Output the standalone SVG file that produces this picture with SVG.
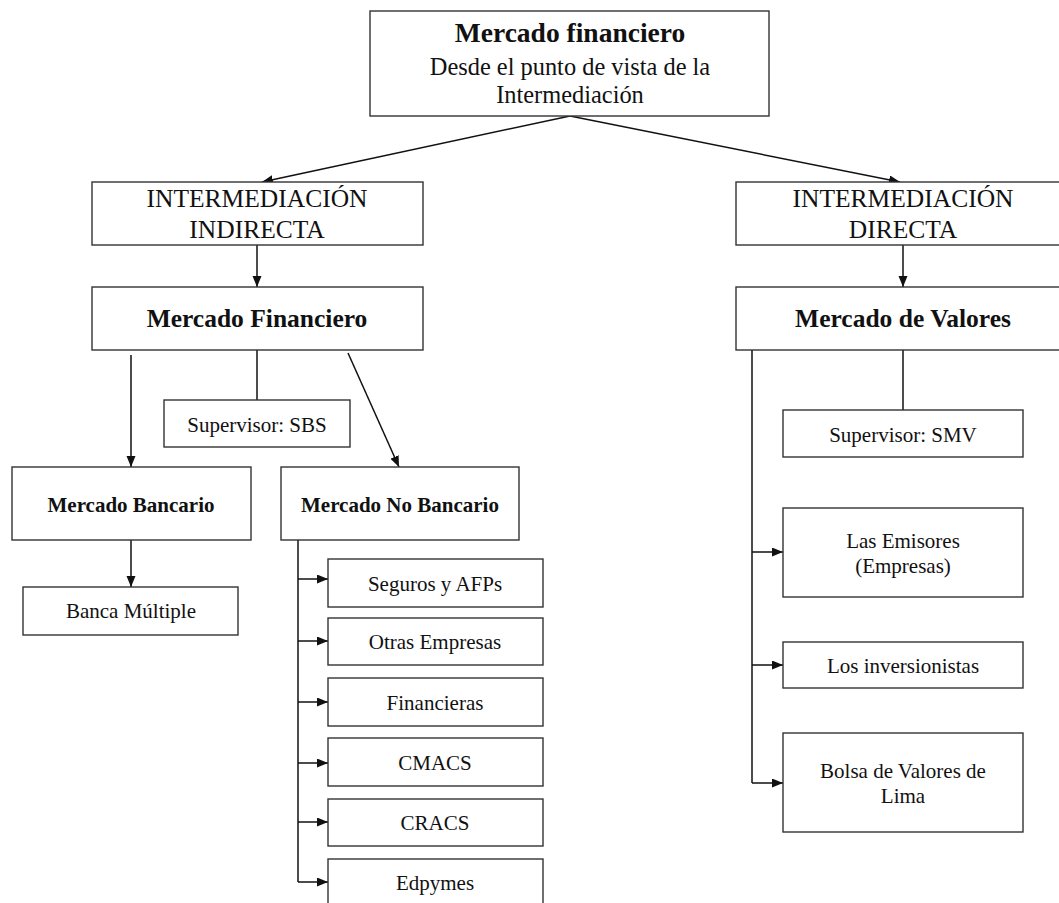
<svg xmlns="http://www.w3.org/2000/svg" width="1059" height="903" viewBox="0 0 1059 903">
  <style>
    .box { fill: #ffffff; stroke: #333333; stroke-width: 1.4; }
    .t { font-family: "Liberation Serif", "Times New Roman", serif; fill: #111111; text-anchor: middle; }
    .title { font-size: 27.5px; font-weight: bold; }
    .sub { font-size: 24.4px; }
    .big { font-size: 25.5px; }
    .bigb { font-size: 25.5px; font-weight: bold; }
    .small { font-size: 21px; }
    .smallb { font-size: 21px; font-weight: bold; }
    .edge { fill: none; stroke: #111111; stroke-width: 1.5; }
    .arrow { marker-end: url(#head); }
  </style>
  <defs>
    <marker id="head" markerUnits="userSpaceOnUse" markerWidth="12" markerHeight="10" refX="11" refY="4.5" orient="auto">
      <path d="M0,0 L11,4.5 L0,9 z" fill="#111111"/>
    </marker>
  </defs>

  <rect width="1059" height="903" fill="#ffffff"/>

  <!-- connectors -->
  <g id="connectors">
    <line class="edge arrow" x1="570" y1="116" x2="262" y2="182"/>
    <line class="edge arrow" x1="570" y1="116" x2="900" y2="182"/>
    <line class="edge arrow" x1="257" y1="245" x2="257" y2="287"/>
    <line class="edge arrow" x1="903" y1="245" x2="903" y2="287"/>

    <line class="edge arrow" x1="131" y1="355" x2="131" y2="467"/>
    <line class="edge" x1="257" y1="350" x2="257" y2="400"/>
    <line class="edge arrow" x1="348" y1="353" x2="399" y2="467"/>
    <line class="edge arrow" x1="131" y1="540" x2="131" y2="587"/>

    <line class="edge" x1="298" y1="540" x2="298" y2="882"/>
    <line class="edge arrow" x1="298" y1="579" x2="328" y2="579"/>
    <line class="edge arrow" x1="298" y1="641" x2="328" y2="641"/>
    <line class="edge arrow" x1="298" y1="702" x2="328" y2="702"/>
    <line class="edge arrow" x1="298" y1="763" x2="328" y2="763"/>
    <line class="edge arrow" x1="298" y1="822" x2="328" y2="822"/>
    <line class="edge arrow" x1="298" y1="882" x2="328" y2="882"/>

    <line class="edge" x1="752" y1="350" x2="752" y2="783"/>
    <line class="edge" x1="903" y1="350" x2="903" y2="410"/>
    <line class="edge arrow" x1="752" y1="552" x2="783" y2="552"/>
    <line class="edge arrow" x1="752" y1="665" x2="783" y2="665"/>
    <line class="edge arrow" x1="752" y1="783" x2="783" y2="783"/>
  </g>

  <g id="mercado-financiero-top">
    <rect class="box" x="370" y="11" width="399" height="105"/>
    <text class="t title" x="570" y="42">Mercado financiero</text>
    <text class="t sub" x="570" y="75">Desde el punto de vista de la</text>
    <text class="t sub" x="570" y="103">Intermediación</text>
  </g>

  <g id="intermediacion-indirecta">
    <rect class="box" x="92" y="182" width="331" height="63"/>
    <text class="t big" x="257" y="207">INTERMEDIACIÓN</text>
    <text class="t big" x="257" y="238">INDIRECTA</text>
  </g>

  <g id="intermediacion-directa">
    <rect class="box" x="736" y="182" width="334" height="63"/>
    <text class="t big" x="903" y="207">INTERMEDIACIÓN</text>
    <text class="t big" x="903" y="238">DIRECTA</text>
  </g>

  <g id="mercado-financiero">
    <rect class="box" x="92" y="287" width="331" height="63"/>
    <text class="t bigb" x="257" y="327">Mercado Financiero</text>
  </g>

  <g id="mercado-valores">
    <rect class="box" x="736" y="287" width="334" height="63"/>
    <text class="t bigb" x="903" y="327">Mercado de Valores</text>
  </g>

  <g id="supervisor-sbs">
    <rect class="box" x="164" y="400" width="186" height="47"/>
    <text class="t small" x="257" y="432">Supervisor: SBS</text>
  </g>

  <g id="mercado-bancario">
    <rect class="box" x="12" y="467" width="239" height="73"/>
    <text class="t smallb" x="131" y="512">Mercado Bancario</text>
  </g>

  <g id="banca-multiple">
    <rect class="box" x="23" y="587" width="215" height="48"/>
    <text class="t small" x="131" y="618">Banca Múltiple</text>
  </g>

  <g id="mercado-no-bancario">
    <rect class="box" x="281" y="467" width="238" height="73"/>
    <text class="t smallb" x="400" y="512">Mercado No Bancario</text>
  </g>

  <g id="seguros-afps">
    <rect class="box" x="328" y="559" width="215" height="48"/>
    <text class="t small" x="435" y="591">Seguros y AFPs</text>
  </g>

  <g id="otras-empresas">
    <rect class="box" x="328" y="618" width="215" height="47"/>
    <text class="t small" x="435" y="649">Otras Empresas</text>
  </g>

  <g id="financieras">
    <rect class="box" x="328" y="678" width="215" height="48"/>
    <text class="t small" x="435" y="710">Financieras</text>
  </g>

  <g id="cmacs">
    <rect class="box" x="328" y="738" width="215" height="48"/>
    <text class="t small" x="435" y="770">CMACS</text>
  </g>

  <g id="cracs">
    <rect class="box" x="328" y="799" width="215" height="47"/>
    <text class="t small" x="435" y="830">CRACS</text>
  </g>

  <g id="edpymes">
    <rect class="box" x="328" y="859" width="215" height="60"/>
    <text class="t small" x="435" y="890">Edpymes</text>
  </g>

  <g id="supervisor-smv">
    <rect class="box" x="783" y="410" width="240" height="47"/>
    <text class="t small" x="903" y="442">Supervisor: SMV</text>
  </g>

  <g id="emisores">
    <rect class="box" x="783" y="508" width="240" height="89"/>
    <text class="t small" x="903" y="548">Las Emisores</text>
    <text class="t small" x="903" y="573">(Empresas)</text>
  </g>

  <g id="inversionistas">
    <rect class="box" x="783" y="642" width="240" height="46"/>
    <text class="t small" x="903" y="673">Los inversionistas</text>
  </g>

  <g id="bolsa-lima">
    <rect class="box" x="783" y="733" width="240" height="99"/>
    <text class="t small" x="903" y="778">Bolsa de Valores de</text>
    <text class="t small" x="903" y="803">Lima</text>
  </g>
</svg>
